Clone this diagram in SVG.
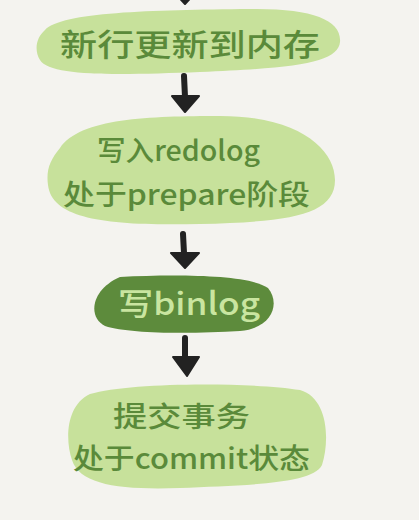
<svg xmlns="http://www.w3.org/2000/svg" width="419" height="520" viewBox="0 0 419 520">
<style>
.blob{fill:#c7e19b;}
.dark{fill:#5d8b3c;}
.t{font-family:"Noto Sans CJK SC","Noto Sans",sans-serif;fill:#5a8a3a;font-size:31px;font-weight:500;}
.s{font-size:28px;}
.tl{font-family:"Noto Sans CJK SC","Noto Sans",sans-serif;fill:#c9e5a0;font-size:31px;font-weight:500;}
.shaft{stroke:#222;stroke-width:6;stroke-linecap:round;fill:none;}
.head{fill:#222;stroke:#222;stroke-width:2;stroke-linejoin:round;}
</style>
<rect width="419" height="520" fill="#f4f3ef"/>
<g id="connectors">
<polygon class="head" points="172,-10 198,-10 185,4"/>
<line class="shaft" x1="184" y1="76" x2="185" y2="97"/>
<polygon class="head" points="172,96 199,96 185,112"/>
<line class="shaft" x1="183" y1="234" x2="184" y2="253"/>
<polygon class="head" points="171,253 199,253 185,268"/>
<line class="shaft" x1="185" y1="338" x2="185" y2="357"/>
<polygon class="head" points="173,357 199,357 187,376"/>
</g>
<g id="node1">
<path class="blob" d="M45,30 C62,12 150,10 250,9 C312,8 342,20 340,42 C338,62 300,68 200,72 C120,75 50,77 40,60 C34,50 36,38 45,30 Z"/>
<text class="t" x="60" y="56" textLength="260" lengthAdjust="spacingAndGlyphs">新行更新到内存</text>
</g>
<g id="node2">
<path class="blob" d="M60,148 C80,118 150,116 220,116 C300,116 335,150 335,180 C335,215 290,222 200,224 C110,226 52,220 48,185 C46,170 50,160 60,148 Z"/>
<text class="t s" x="97" y="161" textLength="163" lengthAdjust="spacingAndGlyphs">写入redolog</text>
<text class="t s" x="63" y="205" textLength="247" lengthAdjust="spacingAndGlyphs">处于prepare阶段</text>
</g>
<g id="node3">
<path class="dark" d="M120,277 C180,274 250,275 268,288 C280,302 274,328 240,331 C190,334 130,334 105,326 C88,318 90,290 120,277 Z"/>
<text class="tl" x="118" y="315" textLength="142" lengthAdjust="spacingAndGlyphs">写binlog</text>
</g>
<g id="node4">
<path class="blob" d="M90,394 C130,382 250,382 300,390 C328,398 330,440 322,465 C312,485 240,485 180,488 C120,490 80,485 72,460 C65,440 66,405 90,394 Z"/>
<text class="t s" x="113" y="427" textLength="137" lengthAdjust="spacingAndGlyphs">提交事务</text>
<text class="t s" x="73" y="469" textLength="237" lengthAdjust="spacingAndGlyphs">处于commit状态</text>
</g>
</svg>
